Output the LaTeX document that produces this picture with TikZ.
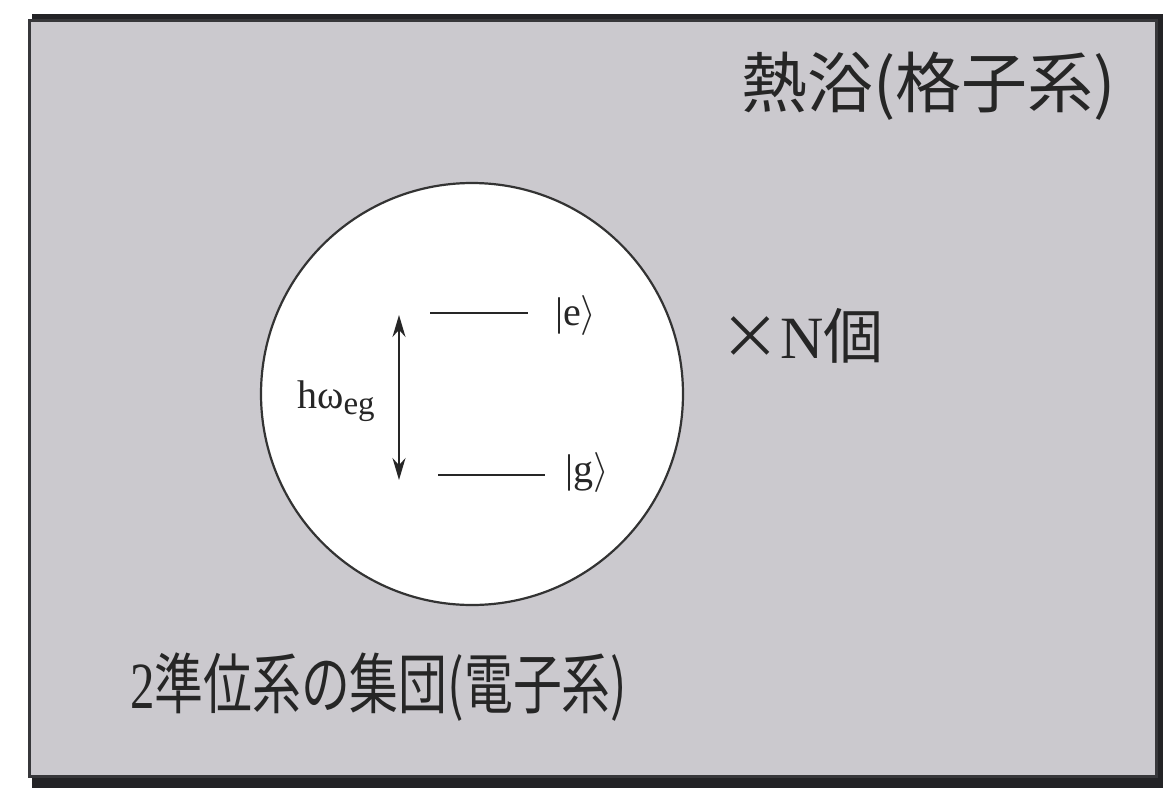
\RequirePackage{fix-cm}
\documentclass[tikz,border=0pt]{standalone}
\usepackage{fontspec}
\setmainfont{Liberation Serif}
\newfontfamily\jp{Noto Sans CJK JP}
\usetikzlibrary{arrows.meta}
\definecolor{bgc}{RGB}{203,201,206}
\definecolor{framec}{RGB}{55,55,58}
\definecolor{shadowc}{RGB}{35,35,38}
\tikzset{
  level/.style={line width=2pt, draw=black!85},
  gap/.style={line width=2pt, draw=black!85, {Stealth[length=22pt,width=13pt]}-{Stealth[length=22pt,width=13pt]}},
  lbl/.style={inner sep=0pt, text=black!85},
}
\begin{document}
\begin{tikzpicture}[x=1pt,y=-1pt]
\useasboundingbox (0,0) rectangle (1163,793);
\fill[white] (0,0) rectangle (1163,793);
\fill[shadowc] (32,14) rectangle (1163,788);
\fill[bgc, draw=framec, line width=3pt] (29,20) rectangle (1156,776);
\node[circle, draw=black!80, fill=white, line width=2.2pt, minimum size=422pt, inner sep=0pt] (ball) at (472,394) {};
\coordinate (e1) at (430,313);
\coordinate (e2) at (528,313);
\coordinate (g1) at (438,475);
\coordinate (g2) at (545,475);
\draw[level] (e1) -- (e2);
\draw[level] (g1) -- (g2);
\coordinate (atop) at (399,315);
\coordinate (abot) at (399,480);
\draw[gap] (atop) -- (abot);
\node[lbl, anchor=base west] (kete) at (555,325) {\fontsize{40}{44}\selectfont |e$\rangle$};
\node[lbl, anchor=base west] (ketg) at (565,482) {\fontsize{40}{44}\selectfont |g$\rangle$};
\node[lbl, anchor=base west] (hw) at (297,408) {\fontsize{40}{44}\selectfont hω\textsubscript{\fontsize{33}{36}\selectfont eg}};
\node[lbl, anchor=base west] (bath) at (741,107) {\fontsize{66}{70}\selectfont\jp 熱浴(格子系)};
\node[lbl, anchor=base west] (times) at (720,358) {\fontsize{60}{64}\selectfont{\jp ×}N{\jp 個}};
\node[lbl, anchor=base west] (ens) at (130,708) {\scalebox{0.74}[1]{\fontsize{66}{70}\selectfont 2{\jp 準位系の集団(電子系)}}};
\end{tikzpicture}
\end{document}
